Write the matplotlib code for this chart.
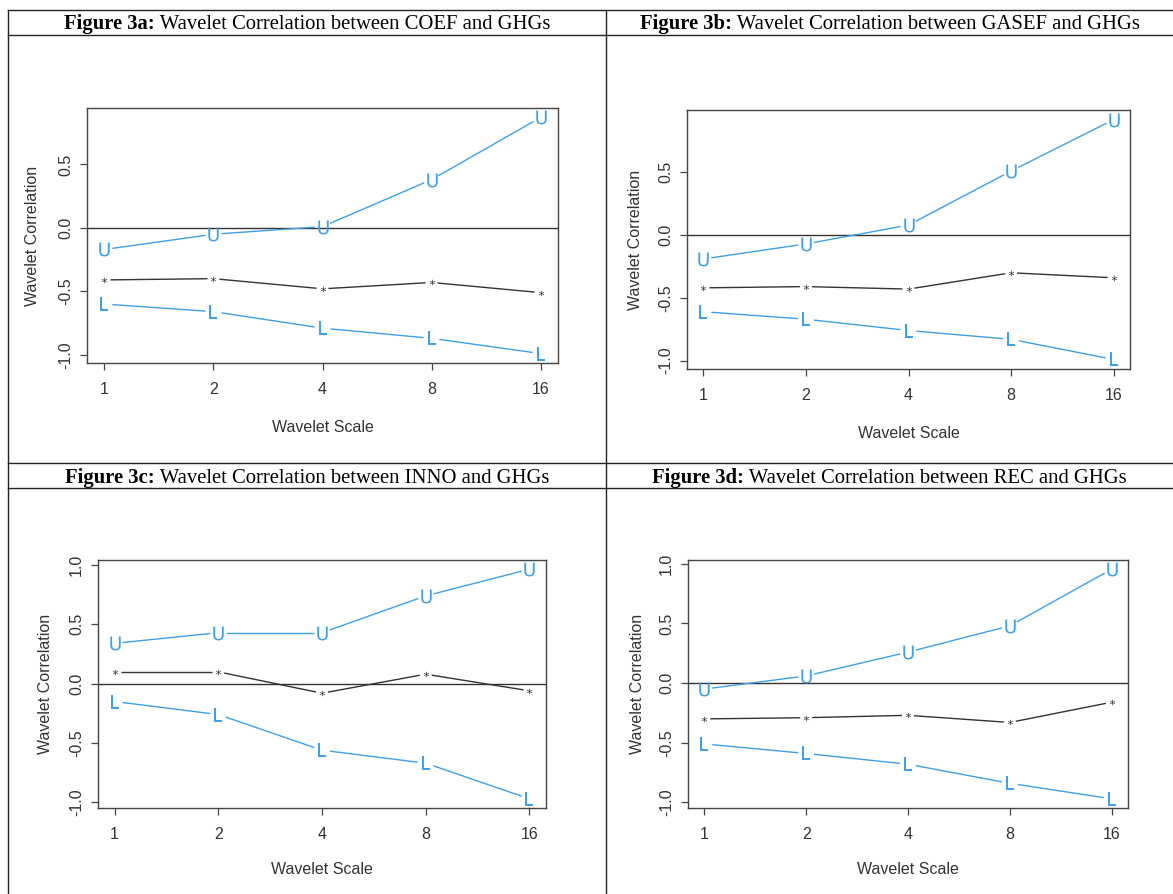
import numpy as np
import matplotlib
matplotlib.use("Agg")
import matplotlib.pyplot as plt
from matplotlib.lines import Line2D
from matplotlib.transforms import blended_transform_factory

plt.rcParams['axes.unicode_minus'] = False
plt.rcParams['mathtext.fontset'] = 'custom'
plt.rcParams['mathtext.rm'] = 'Liberation Sans'

# wavelet scales (x axis)
scales = [1, 2, 4, 8, 16]

# Figure 3a: COEF and GHGs
coef_upper = [-0.17, -0.05, 0.01, 0.38, 0.87]
coef_corr = [-0.41, -0.40, -0.48, -0.43, -0.51]
coef_lower = [-0.60, -0.66, -0.79, -0.87, -0.99]

# Figure 3b: GASEF and GHGs
gasef_upper = [-0.19, -0.07, 0.08, 0.51, 0.92]
gasef_corr = [-0.42, -0.41, -0.43, -0.30, -0.34]
gasef_lower = [-0.61, -0.67, -0.76, -0.83, -0.99]

# Figure 3c: INNO and GHGs
inno_upper = [0.34, 0.43, 0.43, 0.74, 0.965]
inno_corr = [0.10, 0.10, -0.08, 0.08, -0.06]
inno_lower = [-0.15, -0.26, -0.56, -0.67, -0.97]

# Figure 3d: REC and GHGs
rec_upper = [-0.05, 0.06, 0.26, 0.48, 0.955]
rec_corr = [-0.30, -0.29, -0.27, -0.33, -0.16]
rec_lower = [-0.51, -0.59, -0.68, -0.84, -0.97]

headers = [("Figure 3a:", "Wavelet Correlation between COEF and GHGs"),
           ("Figure 3b:", "Wavelet Correlation between GASEF and GHGs"),
           ("Figure 3c:", "Wavelet Correlation between INNO and GHGs"),
           ("Figure 3d:", "Wavelet Correlation between REC and GHGs")]

W, H = 1173, 894
BLUE = '#3fa0e8'
DARK = '#333333'
SANS = ['Liberation Sans', 'DejaVu Sans']

fig = plt.figure(figsize=(W / 100, H / 100), dpi=100)


def px_box(left, right, top, bottom):
    return [left / W, 1 - bottom / H, (right - left) / W, (bottom - top) / H]


def gapped(ax, x, y, gap, color):
    # R style type="b": segments stop short of the plotted characters
    pts = ax.transData.transform(np.column_stack([x, y]))
    inv = ax.transData.inverted()
    for p0, p1 in zip(pts[:-1], pts[1:]):
        d = p1 - p0
        n = np.hypot(*d)
        if n <= 2 * gap:
            continue
        u = d / n
        seg = inv.transform(np.array([p0 + u * gap, p1 - u * gap]))
        ax.plot(seg[:, 0], seg[:, 1], color=color, lw=1.0, solid_capstyle='butt')


panels = [
    (coef_upper, coef_corr, coef_lower, (87, 558, 108, 363), 33, 428),
    (gasef_upper, gasef_corr, gasef_lower, (687, 1130, 110, 369), 635, 433),
    (inno_upper, inno_corr, inno_lower, (98, 546, 560, 808), 46, 870),
    (rec_upper, rec_corr, rec_lower, (688, 1128, 560, 808), 637, 870),
]

for upper, corr, lower, box, ylab_x, xlab_y in panels:
    ax = fig.add_axes(px_box(*box))
    lo = min(lower + corr + upper)
    hi = max(lower + corr + upper)
    r = hi - lo
    ymin, ymax = lo - 0.04 * r, hi + 0.04 * r
    ax.set_ylim(ymin, ymax)
    ax.set_xscale('log', base=2)
    ax.set_xlim(2 ** -0.16, 2 ** 4.16)
    ax.minorticks_off()
    ax.set_xticks(scales)
    ax.set_xticklabels([str(s) for s in scales])
    yt = [v for v in [-1.0, -0.5, 0.0, 0.5, 1.0] if ymin <= v <= ymax]
    ax.set_yticks(yt)
    ax.set_yticklabels(['%.1f' % v for v in yt], rotation=90, va='center')
    for s in ax.spines.values():
        s.set_color('#444444')
        s.set_linewidth(1.0)
    ax.tick_params(axis='both', length=5, width=0.9, color='#444444',
                   labelcolor=DARK, labelsize=11.5)
    ax.tick_params(axis='x', pad=9)
    ax.tick_params(axis='y', pad=5)
    for lab in ax.get_xticklabels() + ax.get_yticklabels():
        lab.set_family(SANS)

    ax.axhline(0, color=DARK, lw=1.0)
    gapped(ax, scales, upper, 8, BLUE)
    gapped(ax, scales, lower, 8, BLUE)
    gapped(ax, scales, corr, 6, DARK)
    ax.plot(scales, upper, ls='none', marker=r'$\mathregular{U}$', ms=10, color=BLUE, mew=0)
    ax.plot(scales, lower, ls='none', marker=r'$\mathregular{L}$', ms=10, color=BLUE, mew=0)
    ax.plot(scales, corr, ls='none', marker=r'$\mathregular{*}$', ms=4, color=DARK, mew=0)

    ax.set_xlabel('Wavelet Scale', family=SANS, fontsize=11.5, color=DARK)
    ax.set_ylabel('Wavelet Correlation', family=SANS, fontsize=11.5, color=DARK)
    ax.xaxis.set_label_coords(0.5, 1 - xlab_y / H,
                              transform=blended_transform_factory(ax.transAxes, fig.transFigure))
    ax.yaxis.set_label_coords(ylab_x / W, 0.5,
                              transform=blended_transform_factory(fig.transFigure, ax.transAxes))
    ax.xaxis.label.set_va('center')
    ax.yaxis.label.set_va('center')

# table grid
grid = dict(color='#222222', lw=1.0, transform=fig.transFigure)
for yy in [10, 35, 463, 488]:
    fig.add_artist(Line2D([8 / W, 1], [1 - yy / H] * 2, **grid))
for xx in [8, 606]:
    fig.add_artist(Line2D([xx / W] * 2, [1 - 10 / H, 0], **grid))

# header texts: bold label followed by normal text, centred in each cell
renderer = fig.canvas.get_renderer()
cells = [(8, 606, 29), (606, 1173, 29), (8, 606, 483), (606, 1173, 483)]
for (bold, rest), (x0, x1, base) in zip(headers, cells):
    tb = fig.text(0, 1 - base / H, bold, family='Liberation Serif', weight='bold',
                  fontsize=14.9, va='baseline', ha='left')
    tn = fig.text(0, 1 - base / H, ' ' + rest, family='Liberation Serif',
                  fontsize=14.9, va='baseline', ha='left')
    wb = tb.get_window_extent(renderer).width
    wn = tn.get_window_extent(renderer).width
    start = (x0 + x1) / 2 - (wb + wn) / 2
    tb.set_x(start / W)
    tn.set_x((start + wb) / W)

fig.savefig('out.png', dpi=100)
